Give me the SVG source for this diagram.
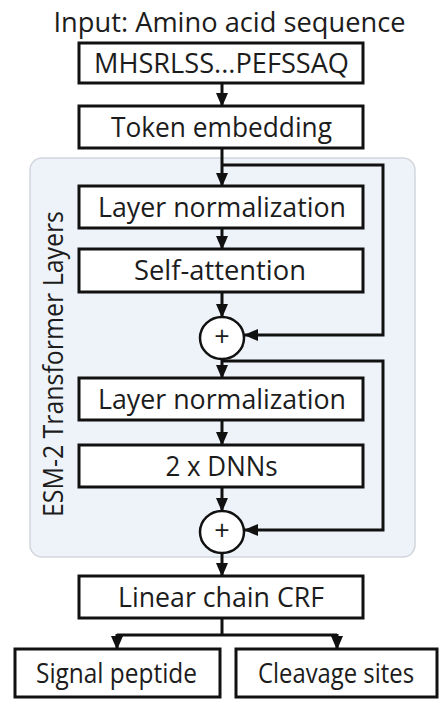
<svg xmlns="http://www.w3.org/2000/svg" width="439" height="703" viewBox="0 0 439 703">
<style>
.box{fill:#fff;stroke:#111;stroke-width:3}
.t{font-family:"Open Sans","Liberation Sans",sans-serif;font-size:27px;fill:#1c1c1c;text-anchor:middle}
.ln{fill:none;stroke:#111;stroke-width:3}
.op{fill:#fff;stroke:#111;stroke-width:2.5}
</style>
<defs>
<marker id="ah" markerUnits="userSpaceOnUse" markerWidth="14" markerHeight="12" viewBox="0 0 14 12" refX="13" refY="6" orient="auto">
<path d="M0,0 L14,6 L0,12 Z" fill="#111"/>
</marker>
</defs>
<rect width="439" height="703" fill="#fff"/>
<text class="t" x="229.5" y="32" font-size="25" textLength="352" lengthAdjust="spacingAndGlyphs">Input: Amino acid sequence</text>
<g id="container">
<rect x="30" y="158" width="385" height="399" rx="12" fill="#eef3f9" stroke="#d2d6dc" stroke-width="1.5"/>
<text class="t" transform="translate(63,364) rotate(-90)" textLength="306" lengthAdjust="spacingAndGlyphs">ESM-2 Transformer Layers</text>
</g>
<g id="connectors">
<line class="ln" x1="222" y1="83" x2="222" y2="106" marker-end="url(#ah)"/>
<line class="ln" x1="222" y1="148" x2="222" y2="186" marker-end="url(#ah)"/>
<polyline class="ln" points="222,165 383,165 383,335 245,335" marker-end="url(#ah)"/>
<line class="ln" x1="222" y1="228" x2="222" y2="249" marker-end="url(#ah)"/>
<line class="ln" x1="222" y1="292" x2="222" y2="317" marker-end="url(#ah)"/>
<line class="ln" x1="222" y1="359" x2="222" y2="378" marker-end="url(#ah)"/>
<polyline class="ln" points="222,361 383,361 383,530 245,530" marker-end="url(#ah)"/>
<line class="ln" x1="222" y1="420" x2="222" y2="445" marker-end="url(#ah)"/>
<line class="ln" x1="222" y1="487" x2="222" y2="511" marker-end="url(#ah)"/>
<line class="ln" x1="222" y1="553" x2="222" y2="576" marker-end="url(#ah)"/>
<line class="ln" x1="222" y1="618" x2="222" y2="635"/>
<polyline class="ln" points="117,635 337,635"/>
<line class="ln" x1="117" y1="634" x2="117" y2="649" marker-end="url(#ah)"/>
<line class="ln" x1="337" y1="634" x2="337" y2="649" marker-end="url(#ah)"/>
</g>
<g id="seq"><rect class="box" x="79" y="43" width="284" height="40"/><text class="t" x="221.5" y="73" textLength="255" lengthAdjust="spacingAndGlyphs">MHSRLSS...PEFSSAQ</text></g>
<g id="embed"><rect class="box" x="79" y="106" width="284" height="42"/><text class="t" x="221.5" y="137" textLength="221" lengthAdjust="spacingAndGlyphs">Token embedding</text></g>
<g id="ln1"><rect class="box" x="79" y="186" width="284" height="42"/><text class="t" x="222" y="217" textLength="248" lengthAdjust="spacingAndGlyphs">Layer normalization</text></g>
<g id="attn"><rect class="box" x="79" y="249" width="284" height="43"/><text class="t" x="220" y="280" textLength="172" lengthAdjust="spacingAndGlyphs">Self-attention</text></g>
<g id="add1"><ellipse class="op" cx="222" cy="338" rx="22" ry="21"/><text class="t" x="222" y="346" font-size="23">+</text></g>
<g id="ln2"><rect class="box" x="79" y="378" width="284" height="42"/><text class="t" x="222" y="409" textLength="248" lengthAdjust="spacingAndGlyphs">Layer normalization</text></g>
<g id="dnn"><rect class="box" x="79" y="445" width="284" height="42"/><text class="t" x="221.5" y="476" textLength="112" lengthAdjust="spacingAndGlyphs">2 x DNNs</text></g>
<g id="add2"><ellipse class="op" cx="222" cy="532" rx="22" ry="21"/><text class="t" x="222" y="540" font-size="23">+</text></g>
<g id="crf"><rect class="box" x="79" y="576" width="284" height="42"/><text class="t" x="221" y="607" textLength="206" lengthAdjust="spacingAndGlyphs">Linear chain CRF</text></g>
<g id="sp"><rect class="box" x="15" y="649" width="205" height="48"/><text class="t" x="116.5" y="683" textLength="161" lengthAdjust="spacingAndGlyphs">Signal peptide</text></g>
<g id="cs"><rect class="box" x="236" y="649" width="201" height="48"/><text class="t" x="336" y="683" textLength="156" lengthAdjust="spacingAndGlyphs">Cleavage sites</text></g>
</svg>
